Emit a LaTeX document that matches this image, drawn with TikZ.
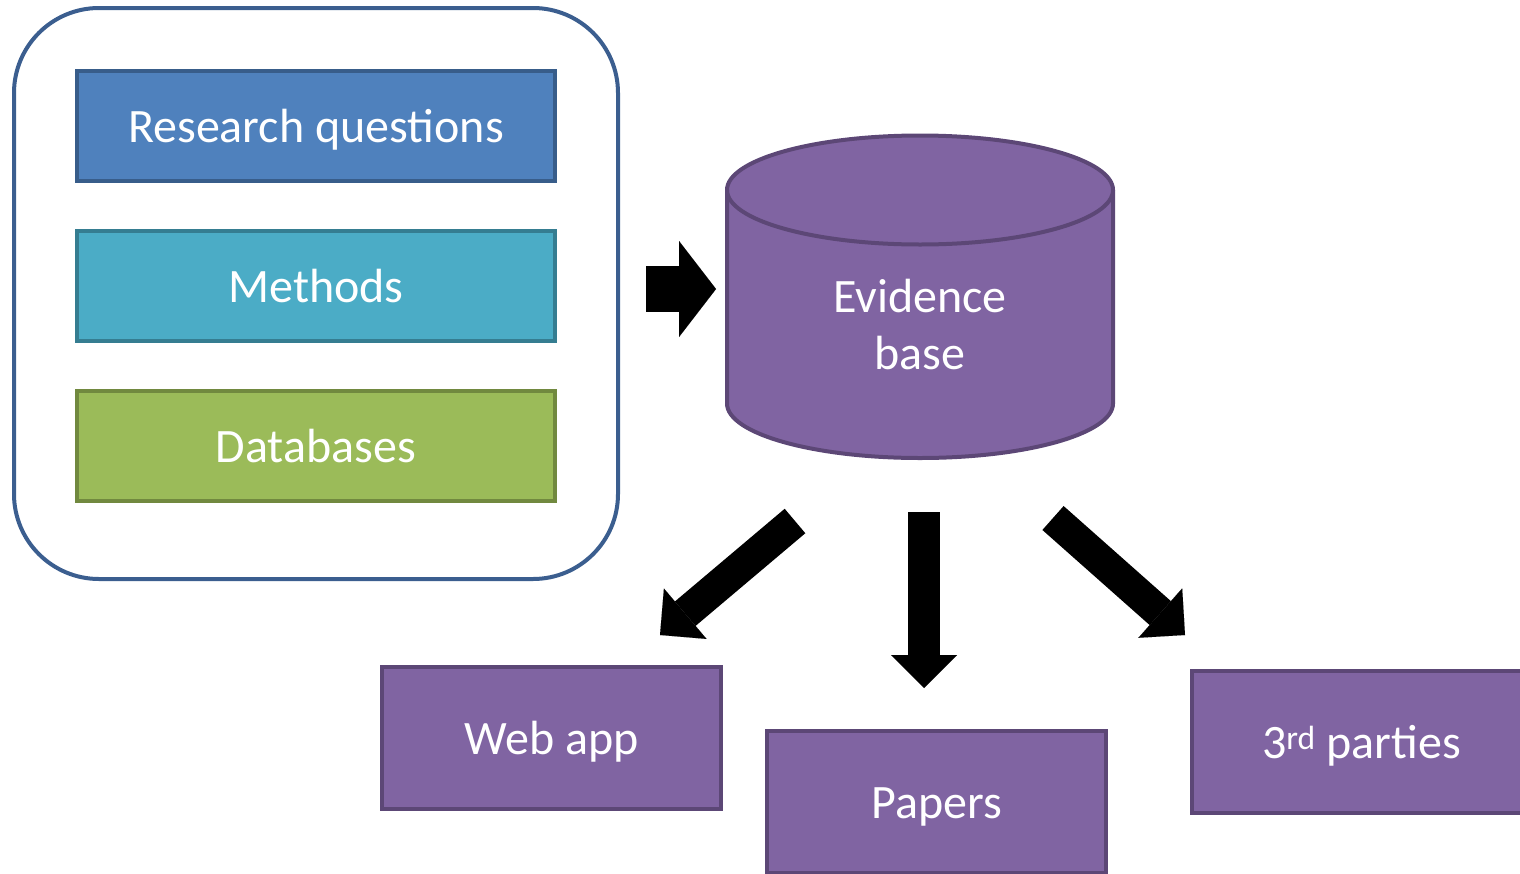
\documentclass[tikz,border=0pt]{standalone}
\usepackage{fontspec}
\setmainfont{Carlito}
\usetikzlibrary{arrows.meta}
\definecolor{rqfill}{HTML}{4F81BD}\definecolor{rqline}{HTML}{385D8A}
\definecolor{mefill}{HTML}{4BACC6}\definecolor{meline}{HTML}{357D91}
\definecolor{dbfill}{HTML}{9BBB59}\definecolor{dbline}{HTML}{71893F}
\definecolor{evfill}{HTML}{8064A2}\definecolor{evline}{HTML}{5C4776}
\definecolor{frame}{HTML}{3B5E8F}
\begin{document}
\begin{tikzpicture}[x=1pt,y=-1pt,
  txt/.style={text=white, font=\fontsize{48}{57}\selectfont},
  boxtxt/.style={txt, text height=34pt, text depth=1pt},
  topbox/.style={boxtxt, draw, line width=4pt, minimum width=478pt, minimum height=110pt, inner sep=0pt},
  outbox/.style={boxtxt, draw=evline, fill=evfill, line width=4pt, minimum width=339pt, minimum height=142pt, inner sep=0pt},
  bigarrow/.style={line width=32pt, -{Triangle[length=33pt,width=66pt,line width=0.01pt]}}]
\clip (0,0) rectangle (1520,873);
% input frame
\draw [frame, line width=4pt, rounded corners=85pt] (14,8) rectangle (618,579);
\node [topbox, draw=rqline, fill=rqfill] (rq) at (316,126) {Research questions};
\node [topbox, draw=meline, fill=mefill] (me) at (316,286) {Methods};
\node [topbox, draw=dbline, fill=dbfill] (db) at (316,446) {Databases};
% evidence base
\filldraw [draw=evline, fill=evfill, line width=4pt] (727,190) -- (727,403.5)
  arc[start angle=180, end angle=0, x radius=193, y radius=54.5] -- (1113,190)
  arc[start angle=0, end angle=-180, x radius=193, y radius=54.5] -- cycle;
\draw [evline, line width=4pt] (727,190) arc[start angle=180, end angle=0, x radius=193, y radius=54.5];
\node [txt, align=center] (ev) at (920,325) {Evidence\\base};
% outputs
\node [outbox] (web) at (551.5,738) {Web app};
\node [outbox] (pap) at (936.5,802) {Papers};
\node [outbox] (third) at (1361.5,742) {3\textsuperscript{rd} parties};
% arrows
\coordinate (in1) at (646,289); \coordinate (in2) at (716,289);
\draw [line width=46pt, -{Triangle[length=37pt,width=96pt,line width=0.01pt]}] (in1) -- (in2);
\foreach \a/\b/\n in {795/521/w, 924/512/p, 1053/518/t}{
  \coordinate (\n1) at (\a,\b);
}
\coordinate (w2) at (660,635); \coordinate (p2) at (924,688); \coordinate (t2) at (1185,635);
\foreach \n in {w,p,t}{
  \draw [bigarrow] (\n1) -- (\n2);
}
\end{tikzpicture}
\end{document}
